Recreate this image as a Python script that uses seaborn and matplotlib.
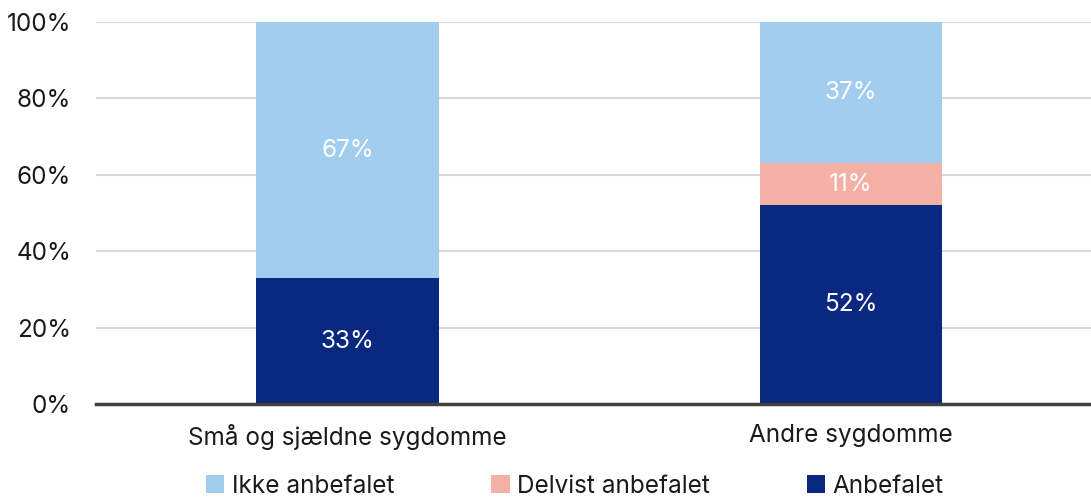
import matplotlib
matplotlib.use("Agg")
import matplotlib.pyplot as plt
import seaborn as sns
import pandas as pd
import numpy as np
from matplotlib.patches import Patch

categories = ["Små og sjældne sygdomme", "Andre sygdomme"]
anbefalet = [33, 52]
delvist = [0, 11]
ikke = [67, 37]
series_names = ["Ikke anbefalet", "Delvist anbefalet", "Anbefalet"]
colors = {"Ikke anbefalet": "#A3CDEE", "Delvist anbefalet": "#F4B0A4", "Anbefalet": "#0B2880"}
yticks = [0, 20, 40, 60, 80, 100]
ytick_labels = ["0%", "20%", "40%", "60%", "80%", "100%"]

sns.set_theme(style="white")
plt.rcParams['font.family'] = ['Inter', 'DejaVu Sans']
txt = "#1a1a1a"
fs = 17.5

df = pd.DataFrame({"cat": categories, "Anbefalet": anbefalet,
                   "Delvist anbefalet": delvist, "Ikke anbefalet": ikke})
df["c1"] = df["Anbefalet"]
df["c2"] = df["Anbefalet"] + df["Delvist anbefalet"]
df["c3"] = df["c2"] + df["Ikke anbefalet"]

fig = plt.figure(figsize=(10.91, 4.99), dpi=100)
ax = fig.add_axes([0.088, 0.19, 0.912, 0.766])

w = 0.363
sns.barplot(data=df, x="cat", y="c3", color=colors["Ikke anbefalet"], width=w, ax=ax,
            saturation=1, linewidth=0, zorder=3)
sns.barplot(data=df, x="cat", y="c2", color=colors["Delvist anbefalet"], width=w, ax=ax,
            saturation=1, linewidth=0, zorder=3)
sns.barplot(data=df, x="cat", y="c1", color=colors["Anbefalet"], width=w, ax=ax,
            saturation=1, linewidth=0, zorder=3)

for i, row in df.iterrows():
    segs = [(0, row["Anbefalet"]), (row["c1"], row["Delvist anbefalet"]), (row["c2"], row["Ikke anbefalet"])]
    for b, v in segs:
        if v > 0:
            ax.text(i, b + v / 2, f"{v}%", ha="center", va="center", color="white",
                    fontsize=fs, zorder=4)

ax.set_ylim(0, 100)
ax.set_xlim(-0.5, 1.477)
ax.set_yticks(yticks)
ax.set_yticklabels(ytick_labels, fontsize=fs, color=txt)
ax.tick_params(axis="x", labelsize=fs, colors=txt, length=0, pad=14)
ax.tick_params(axis="y", length=0, pad=18)
for lab in ax.get_yticklabels():
    lab.set_horizontalalignment("right")
ax.set_xlabel("")
ax.set_ylabel("")
ax.yaxis.grid(True, color="#d9d9d9", linewidth=1.5, zorder=0)
ax.set_axisbelow(True)
for s in ["top", "right", "left"]:
    ax.spines[s].set_visible(False)
ax.spines["bottom"].set_color("#404040")
ax.spines["bottom"].set_linewidth(2.5)
ax.spines["bottom"].set_zorder(5)

handles = [Patch(facecolor=colors[n], edgecolor="none") for n in series_names]
fig.legend(handles, series_names, loc="center", bbox_to_anchor=(0.527, 0.026), ncol=3,
           frameon=False, fontsize=fs, handlelength=0.75, handleheight=0.75,
           handletextpad=0.3, columnspacing=4.0, labelcolor=txt)

fig.savefig("out.png", dpi=100)
